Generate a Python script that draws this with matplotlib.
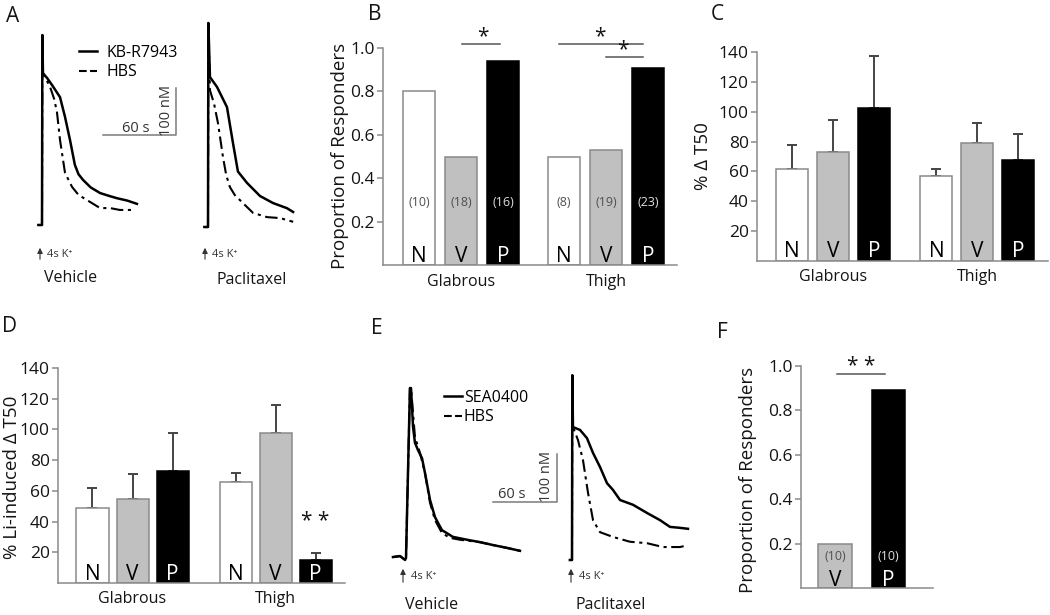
import matplotlib
matplotlib.use("Agg")
import matplotlib.pyplot as plt
from matplotlib.lines import Line2D

plt.rcParams['font.family'] = ['Open Sans', 'DejaVu Sans']

W, H = 1050, 615

# ---------------- data ----------------
conds = ["N", "V", "P"]
groups = ["Glabrous", "Thigh"]

# B: proportion of responders (KB-R7943)
b_prop = [[0.80, 0.50, 0.94], [0.50, 0.53, 0.91]]
b_n = [["(10)", "(18)", "(16)"], ["(8)", "(19)", "(23)"]]

# C: % delta T50
c_mean = [[61.7, 73.0, 102.7], [57.0, 79.0, 67.8]]
c_err = [[16.1, 21.6, 34.3], [4.7, 13.6, 17.2]]

# D: % Li-induced delta T50
d_mean = [[48.7, 55.0, 72.7], [65.6, 97.4, 15.0]]
d_err = [[13.0, 15.8, 25.3], [5.8, 18.2, 4.5]]

# F: proportion of responders (SEA0400)
f_conds = ["V", "P"]
f_prop = [0.20, 0.89]
f_n = ["(10)", "(10)"]

# traces: time after K+ onset (s), [Ca] above baseline (nM)
a_veh_t = [-3, 0, 0.3, 0.8, 4.1, 8.2, 14.8, 18.9, 23, 27, 30, 33.7, 40, 47.7, 55, 61.6, 70, 78]
a_veh_kb = [0, 0, 404, 323, 313, 298, 272, 230, 181, 128, 108, 96, 80, 68, 62, 57, 52, 45]
a_veh_ht = [-3, 0, 0.3, 0.8, 6.6, 10, 12.3, 14.8, 18.9, 24.7, 30, 37, 47.7, 55.9, 64, 76.4]
a_veh_hbs = [0, 0, 404, 323, 294, 268, 240, 181, 111, 81, 64, 53, 36, 36, 32, 32]

a_pac_t = [-3, 0, 0.3, 1.6, 7.4, 15.6, 20.5, 24.6, 32, 42.7, 53.4, 64.9, 69.9]
a_pac_kb = [0, 0, 434, 319, 298, 255, 179, 118, 94, 66, 51, 40, 32]
a_pac_ht = [-3, 0, 0.3, 1.6, 5, 8.2, 12.3, 15, 18, 22, 26.3, 37, 48.5, 59.2, 70]
a_pac_hbs = [0, 0, 434, 291, 262, 221, 149, 110, 85, 68, 57, 30, 21, 19, 11]

e_veh_t = [-12.2, -5.6, -0.9, 0, 3.7, 4.7, 6.6, 8.4, 11.2, 15, 17.8, 22.5, 27.2,
           33.7, 44, 57.2, 69.4, 81.5, 94.7, 106.8]
e_veh_sea = [2, 4, -4, 0, 354, 354, 273, 240, 225, 208, 177, 121, 85,
             58, 44, 38, 33, 27, 21, 15]
e_veh_ht = [-12.2, -5.6, -0.9, 0, 3.7, 4.7, 8.4, 13.1, 17.8, 22.5, 27.2, 33.7,
            41.2, 50.6, 69.4, 81.5, 94.7, 106.8]
e_veh_hbs = [2, 4, -4, 0, 354, 354, 252, 219, 177, 115, 79, 52,
             42, 38, 33, 27, 21, 15]

e_pac_t = [-2, 0, 0.3, 0.9, 7.5, 14, 19.7, 26.2, 32.8, 38.4, 45, 57.2, 70.3,
           82.5, 91.8, 101.2, 108.7]
e_pac_sea = [0, 0, 385, 277, 271, 254, 223, 194, 160, 146, 125, 115, 98,
             83, 69, 67, 65]
e_pac_ht = [-2, 0, 0.3, 0.9, 5.6, 10.3, 15, 19.7, 26.2, 38.4, 54.4, 70.3,
            85.3, 101.2, 108.7]
e_pac_hbs = [0, 0, 385, 277, 250, 208, 140, 83, 58, 48, 38, 35,
             27, 27, 31]

scale_t, scale_c = 60, 100

# ---------------- style ----------------
fills = ["white", "#c0c0c0", "black"]
edges = ["#8a8a8a", "#8a8a8a", "black"]
letter_col = ["black", "black", "white"]
n_col = ["#505050", "#505050", "#e0e0e0"]
axis_col = "#8a8a8a"
txt = "#141414"
dashdot = (0, (6, 2.2, 1.5, 2.2))

fig = plt.figure(figsize=(W / 100, H / 100), dpi=100)


def px_axes(left, top, right, bottom):
    return fig.add_axes([left / W, 1 - bottom / H, (right - left) / W, (bottom - top) / H])


def ftext(x, y, s, **kw):
    fig.text(x / W, 1 - y / H, s, **kw)


def style_bar_axes(ax, ticks):
    for s in ["top", "right"]:
        ax.spines[s].set_visible(False)
    for s in ["left", "bottom"]:
        ax.spines[s].set_color(axis_col)
        ax.spines[s].set_linewidth(1.1)
    ax.set_xticks([])
    ax.set_yticks(ticks)
    ax.tick_params(axis="y", direction="out", length=4, width=1.1, color=axis_col,
                   labelsize=12.5, pad=2, labelcolor=txt)


def grouped_bars(ax, centers, width, means, errs=None, labels_n=None, ytext=0.0, nrel=None):
    for g, gc in enumerate(centers):
        xs = [gc - 1, gc, gc + 1]
        ax.bar(xs, means[g], width, color=fills, edgecolor=edges, linewidth=1.1, zorder=2)
        if errs is not None:
            ax.errorbar(xs, means[g], yerr=[[0, 0, 0], errs[g]], fmt="none",
                        ecolor="#444444", elinewidth=1.4, capsize=3.5, capthick=1.4, zorder=1)
        for i, x in enumerate(xs):
            ax.text(x, ytext, conds[i], ha="center", va="baseline", fontsize=15,
                    color=letter_col[i], zorder=3)
            if labels_n is not None:
                ax.text(x, nrel, labels_n[g][i], ha="center", va="center", fontsize=9,
                        color=n_col[i], zorder=3)


# ---------------- B ----------------
axB = px_axes(383, 48, 677, 265)
style_bar_axes(axB, [0.2, 0.4, 0.6, 0.8, 1.0])
axB.set_yticklabels(["0.2", "0.4", "0.6", "0.8", "1.0"])
axB.set_xlim(-1.857, 5.143)
axB.set_ylim(0, 1.0)
grouped_bars(axB, [0, 3.45], 0.76, b_prop, labels_n=b_n, ytext=0.014, nrel=0.29)
for x0, x1, y in [(0.02, 0.93, 1.02), (2.33, 4.33, 1.02), (3.45, 4.33, 0.96)]:
    axB.plot([x0, x1], [y, y], color="#555555", lw=1.1, clip_on=False)
for x, y in [(0.52, 1.005), (3.31, 1.005), (3.86, 0.945)]:
    axB.text(x, y, "*", ha="center", va="bottom", fontsize=15, color=txt)
for gc, name in zip([0, 3.45], groups):
    axB.text(gc, -0.04, name, ha="center", va="top", fontsize=11.5, color=txt)
ftext(340, 156, "Proportion of Responders", rotation=90, ha="center", va="center",
      fontsize=13.5, color=txt)

# ---------------- C ----------------
axC = px_axes(757, 52, 1048, 261)
style_bar_axes(axC, [20, 40, 60, 80, 100, 120, 140])
axC.set_xlim(-1.854, 5.24)
axC.set_ylim(0, 140)
grouped_bars(axC, [0, 3.52], 0.78, c_mean, errs=c_err, ytext=2.5)
for gc, name in zip([0, 3.52], groups):
    axC.text(gc, -5.5, name, ha="center", va="top", fontsize=11.5, color=txt)
ftext(703, 156, "% Δ T50", rotation=90, ha="center", va="center", fontsize=13.5,
      color=txt)

# ---------------- D ----------------
axD = px_axes(58, 368, 345, 583)
style_bar_axes(axD, [20, 40, 60, 80, 100, 120, 140])
axD.set_xlim(-1.862, 5.31)
axD.set_ylim(0, 140)
grouped_bars(axD, [0, 3.575], 0.8, d_mean, errs=d_err, ytext=2.0)
axD.text(3.575 + 1, 40, "* *", ha="center", va="center", fontsize=15, color=txt)
for gc, name in zip([0, 3.575], groups):
    axD.text(gc, -5.5, name, ha="center", va="top", fontsize=11.5, color=txt)
ftext(12, 477, "% Li-induced Δ T50", rotation=90, ha="center", va="center",
      fontsize=13.5, color=txt)

# ---------------- F ----------------
axF = px_axes(801, 366, 933, 588)
style_bar_axes(axF, [0.2, 0.4, 0.6, 0.8, 1.0])
axF.set_yticklabels(["0.2", "0.4", "0.6", "0.8", "1.0"])
axF.set_xlim(-0.636, 1.832)
axF.set_ylim(0, 1.0)
axF.bar([0, 1], f_prop, 0.63, color=fills[1:], edgecolor=edges[1:], linewidth=1.1)
for i, x in enumerate([0, 1]):
    axF.text(x, 0.01, f_conds[i], ha="center", va="baseline", fontsize=15,
             color=letter_col[i + 1])
    axF.text(x, 0.14, f_n[i], ha="center", va="center", fontsize=9, color=n_col[i + 1])
axF.plot([0.04, 0.93], [0.964, 0.964], color="#555555", lw=1.1, clip_on=False)
axF.text(0.49, 0.95, "* *", ha="center", va="bottom", fontsize=15, color=txt)
ftext(748, 480, "Proportion of Responders", rotation=90, ha="center", va="center",
      fontsize=13.5, color=txt)


# ---------------- traces ----------------
def trace_axes(x0, y0, sx, sy, tlim=(-15, 150), clim=(-20, 450)):
    left, right = x0 + tlim[0] * sx, x0 + tlim[1] * sx
    top, bottom = y0 - clim[1] * sy, y0 - clim[0] * sy
    ax = px_axes(left, top, right, bottom)
    ax.set_xlim(tlim)
    ax.set_ylim(clim)
    ax.axis("off")
    return ax


def draw_pair(ax, t1, c1, t2, c2):
    ax.plot(t2, c2, color="black", lw=1.5, ls=dashdot, clip_on=False)
    ax.plot(t1, c1, color="black", lw=1.8, clip_on=False)


def scale_bar(ax, t0, c0):
    ax.plot([t0 - scale_t, t0, t0], [c0, c0, c0 + scale_c], color="#7a7a7a", lw=1.1,
            clip_on=False)


def k_arrow(x, y_top, y_bot, xt):
    fig.add_artist(matplotlib.patches.FancyArrowPatch(
        (x / W, 1 - y_bot / H), (x / W, 1 - y_top / H), transform=fig.transFigure,
        arrowstyle="-|>", mutation_scale=8, lw=0.8, color="#333333"))
    ftext(xt, (y_top + y_bot) / 2 + 1, "4s K⁺", ha="left", va="center", fontsize=8,
          color="#333333")


# A
axAv = trace_axes(42, 225, 1.217, 0.47)
draw_pair(axAv, a_veh_t, a_veh_kb, a_veh_ht, a_veh_hbs)
scale_bar(axAv, 110, 191)
axAp = trace_axes(208, 227, 1.217, 0.47)
draw_pair(axAp, a_pac_t, a_pac_kb, a_pac_ht, a_pac_hbs)
leg_a = [Line2D([], [], color="black", lw=1.8), Line2D([], [], color="black", lw=1.5, ls="--")]
fig.legend(leg_a, ["KB-R7943", "HBS"], loc="upper left",
           bbox_to_anchor=(71 / W, 1 - 37 / H), frameon=False, fontsize=11.5,
           handlelength=1.1, handletextpad=0.6, labelspacing=0.2, borderpad=0)
ftext(136, 128, "60 s", ha="center", va="center", fontsize=10.5, color="#333333")
ftext(166, 110, "100 nM", ha="center", va="center", rotation=90, fontsize=10.5, color="#333333")
k_arrow(40, 245, 262, 47)
k_arrow(205, 245, 262, 212)
ftext(71, 278, "Vehicle", ha="center", va="center", fontsize=11.5, color=txt)
ftext(252, 280, "Paclitaxel", ha="center", va="center", fontsize=11.5, color=txt)

# E
axEv = trace_axes(406, 558, 1.067, 0.48)
draw_pair(axEv, e_veh_t, e_veh_sea, e_veh_ht, e_veh_hbs)
scale_bar(axEv, 141.5, 117)
axEp = trace_axes(572, 560, 1.067, 0.48)
draw_pair(axEp, e_pac_t, e_pac_sea, e_pac_ht, e_pac_hbs)
fig.legend(leg_a, ["SEA0400", "HBS"], loc="upper left",
           bbox_to_anchor=(436 / W, 1 - 382 / H), frameon=False, fontsize=11.5,
           handlelength=1.1, handletextpad=0.15, labelspacing=0.2, borderpad=0)
ftext(512, 495, "60 s", ha="center", va="center", fontsize=10.5, color="#333333")
ftext(546, 476, "100 nM", ha="center", va="center", rotation=90, fontsize=10.5, color="#333333")
k_arrow(403, 566, 585, 411)
k_arrow(571, 566, 585, 579)
ftext(432, 605, "Vehicle", ha="center", va="center", fontsize=11.5, color=txt)
ftext(611, 605, "Paclitaxel", ha="center", va="center", fontsize=11.5, color=txt)

# panel letters
for x, y, s in [(13, 17, "A"), (375, 14, "B"), (717, 14, "C"), (9, 327, "D"),
                (377, 329, "E"), (722, 333, "F")]:
    ftext(x, y, s, ha="center", va="center", fontsize=15, color=txt)

fig.savefig("out.png", dpi=100, facecolor="white")
